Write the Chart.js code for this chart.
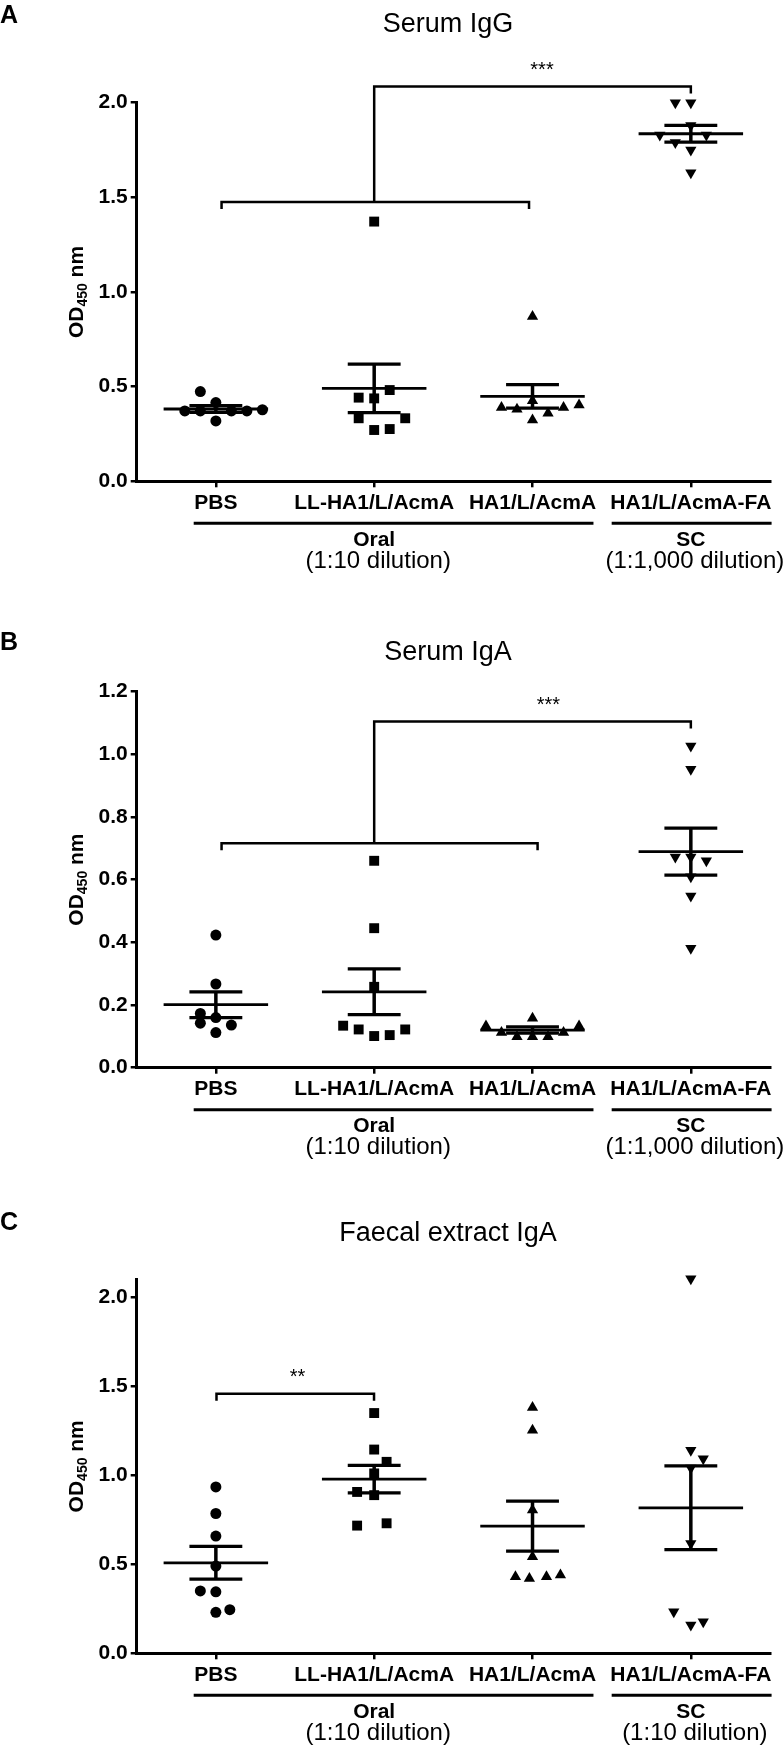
<!DOCTYPE html>
<html>
<head>
<meta charset="utf-8">
<script src="https://cdn.jsdelivr.net/npm/chart.js@4.4.1/dist/chart.umd.min.js"></script>
<style>
  html, body { margin: 0; padding: 0; background: #fff; }
  #wrap { position: relative; width: 784px; height: 1750px; }
  .panel { position: absolute; left: 0; width: 784px; }
  canvas { display: block; }
</style>
</head>
<body>
<div id="wrap">
  <div class="panel" style="top:0"><canvas id="chartA" width="784" height="585"></canvas></div>
  <div class="panel" style="top:585px"><canvas id="chartB" width="784" height="580"></canvas></div>
  <div class="panel" style="top:1165px"><canvas id="chartC" width="784" height="585"></canvas></div>
</div>
<script>
// groups on the x axis
const categories = ["PBS", "LL-HA1/L/AcmA", "HA1/L/AcmA", "HA1/L/AcmA-FA"];
const routes = ["Oral", "SC"];
const routeSpans = [[-0.14, 2.385], [2.5, 3.51]];
const routeCenters = [1, 3];

// A - serum IgG (OD450)
const iggPBS = [0.474, 0.416, 0.372, 0.372, 0.372, 0.372, 0.378, 0.319];
const iggLL  = [1.372, 0.482, 0.442, 0.438, 0.333, 0.333, 0.271, 0.276];
const iggHA1 = [0.871, 0.426, 0.390, 0.380, 0.324, 0.359, 0.390, 0.403];
const iggFA  = [2.000, 2.000, 1.880, 1.830, 1.830, 1.790, 1.750, 1.630];
const iggMean = [0.382, 0.491, 0.449, 1.836];
const iggSem  = [0.018, 0.128, 0.062, 0.044];
const iggTicks = [0, 0.5, 1.0, 1.5, 2.0];
const iggDilution = ["(1:10 dilution)", "(1:1,000 dilution)"];

// B - serum IgA
const igaPBS = [0.423, 0.267, 0.173, 0.160, 0.142, 0.136, 0.112];
const igaLL  = [0.660, 0.445, 0.258, 0.134, 0.122, 0.101, 0.104, 0.122];
const igaHA1 = [0.133, 0.112, 0.099, 0.158, 0.099, 0.099, 0.112, 0.133];
const igaFA  = [1.026, 0.952, 0.672, 0.672, 0.660, 0.609, 0.548, 0.381];
const igaMean = [0.201, 0.242, 0.120, 0.689];
const igaSem  = [0.041, 0.073, 0.010, 0.075];
const igaTicks = [0, 0.2, 0.4, 0.6, 0.8, 1.0, 1.2];
const igaDilution = ["(1:10 dilution)", "(1:1,000 dilution)"];

// C - faecal extract IgA
const fecPBS = [0.934, 0.785, 0.658, 0.490, 0.350, 0.345, 0.230, 0.245];
const fecLL  = [1.349, 1.144, 1.075, 1.010, 0.906, 0.888, 0.717, 0.730];
const fecHA1 = [1.380, 1.252, 0.804, 0.542, 0.430, 0.420, 0.430, 0.439];
const fecFA  = [2.103, 1.140, 1.093, 1.040, 0.617, 0.233, 0.159, 0.177];
const fecMean = [0.508, 0.978, 0.714, 0.817];
const fecSem  = [0.092, 0.077, 0.140, 0.235];
const fecTicks = [0, 0.5, 1.0, 1.5, 2.0];
const fecDilution = ["(1:10 dilution)", "(1:10 dilution)"];

// column-scatter spread of each point, in marker widths
const iggJit = [[-1, 0, -2, -1, 1, 2, 3, 0], [0, 1, -1, 0, -1, 2, 0, 1], [0, 0, -2, -1, 0, 1, 2, 3], [-1, 0, 0, -2, 1, -1, 0, 0]];
const igaJit = [[0, 0, -1, 0, -1, 1, 0], [0, 0, 0, -2, -1, 0, 1, 2], [-3, -2, -1, 0, 0, 1, 2, 3], [0, 0, -1, 0, 1, 0, 0, 0]];
const fecJit = [[0, 0, 0, 0, -1, 0, 0, 0.9], [0, 0, 0.8, 0, -1.1, 0, -1.1, 0.8], [0, 0, 0, 0, -1.1, -0.2, 0.9, 1.8], [0, 0, 0.8, 0, 0, -1.1, 0, 0.8]];

// significance brackets: base [from, to, y], top [from, to, y]
const iggSig = { base: [0.036, 1.978, 1.475], top: [1.0, 3.0, 2.085], stars: "***", starX: 2.06 };
const igaSig = { base: [0.036, 2.032, 0.716], top: [1.0, 3.0, 1.104], stars: "***", starX: 2.1 };
const fecSig = { base: [0.004, 0.999, 1.458], top: null, stars: "**", starX: 0.516 };

const FONT = "'Liberation Sans', Arial, Helvetica, sans-serif";
Chart.defaults.font.family = FONT;
Chart.defaults.color = "#000";

const X_STEP = 0.098;     // one marker width in category units
const MEAN_HALF = 0.33;
const CAP_HALF = 0.167;
const markers = [
  { pointStyle: "circle", pointRadius: 5.5, rotation: 0 },
  { pointStyle: "rect", pointRadius: 7, rotation: 0 },
  { pointStyle: "triangle", pointRadius: 6.5, rotation: 0 },
  { pointStyle: "triangle", pointRadius: 6.5, rotation: 180 }
];

function poly(ctx, lw, pts) {
  ctx.lineWidth = lw;
  ctx.beginPath();
  pts.forEach((p, i) => i ? ctx.lineTo(p[0], p[1]) : ctx.moveTo(p[0], p[1]));
  ctx.stroke();
}

function makePanel(p) {
  const deco = {
    id: "deco",
    afterDatasetsDraw(chart) {
      const { ctx } = chart, x = chart.scales.x, y = chart.scales.y;
      ctx.save();
      ctx.strokeStyle = "#000";
      ctx.lineCap = "butt";
      p.means.forEach((m, i) => {
        const ym = y.getPixelForValue(m);
        const yt = y.getPixelForValue(m + p.sems[i]);
        const yb = y.getPixelForValue(m - p.sems[i]);
        const xc = x.getPixelForValue(i);
        poly(ctx, 2.8, [[x.getPixelForValue(i - MEAN_HALF), ym], [x.getPixelForValue(i + MEAN_HALF), ym]]);
        poly(ctx, 3.5, [[xc, yt], [xc, yb]]);
        poly(ctx, 3.3, [[x.getPixelForValue(i - CAP_HALF), yt], [x.getPixelForValue(i + CAP_HALF), yt]]);
        poly(ctx, 3.3, [[x.getPixelForValue(i - CAP_HALF), yb], [x.getPixelForValue(i + CAP_HALF), yb]]);
      });
      ctx.restore();
    },
    afterDraw(chart) {
      const { ctx, chartArea } = chart, x = chart.scales.x, y = chart.scales.y;
      ctx.save();
      ctx.fillStyle = "#000";
      ctx.strokeStyle = "#000";

      // panel letter + title
      ctx.textAlign = "left";
      ctx.textBaseline = "alphabetic";
      ctx.font = "bold 25px " + FONT;
      ctx.fillText(p.letter, 0, p.letterBase);
      ctx.textAlign = "center";
      ctx.font = "27px " + FONT;
      ctx.fillText(p.title, 448, p.titleBase);

      // y axis title with subscript
      const cy = (chartArea.top + chartArea.bottom) / 2;
      ctx.save();
      ctx.translate(83, cy);
      ctx.rotate(-Math.PI / 2);
      ctx.textAlign = "left";
      const big = "bold 21px " + FONT, small = "bold 14px " + FONT;
      ctx.font = big; const w1 = ctx.measureText("OD").width, w3 = ctx.measureText(" nm").width;
      ctx.font = small; const w2 = ctx.measureText("450").width;
      let sx = -(w1 + w2 + w3) / 2;
      ctx.font = big; ctx.fillText("OD", sx, 0); sx += w1;
      ctx.font = small; ctx.fillText("450", sx, 4); sx += w2;
      ctx.font = big; ctx.fillText(" nm", sx, 0);
      ctx.restore();

      // route groups under the axis
      const bot = chartArea.bottom;
      ctx.textAlign = "center";
      ctx.textBaseline = "middle";
      routes.forEach((r, g) => {
        poly(ctx, 3, [[x.getPixelForValue(routeSpans[g][0]), bot + 42], [x.getPixelForValue(routeSpans[g][1]), bot + 42]]);
        const cx = x.getPixelForValue(routeCenters[g]);
        ctx.font = "bold 21px " + FONT;
        ctx.fillText(r, cx, bot + 59);
        ctx.font = "24px " + FONT;
        ctx.fillText(p.dilution[g], cx + 4, bot + 80);
      });

      // significance bracket
      const s = p.sig, drop = 7;
      ctx.lineJoin = "miter";
      const bx0 = x.getPixelForValue(s.base[0]), bx1 = x.getPixelForValue(s.base[1]), by = y.getPixelForValue(s.base[2]);
      poly(ctx, 2.5, [[bx0, by + drop], [bx0, by], [bx1, by], [bx1, by + drop]]);
      let labelY = by;
      if (s.top) {
        const tx0 = x.getPixelForValue(s.top[0]), tx1 = x.getPixelForValue(s.top[1]), ty = y.getPixelForValue(s.top[2]);
        poly(ctx, 2.5, [[tx0, by], [tx0, ty], [tx1, ty], [tx1, ty + drop]]);
        labelY = ty;
      }
      ctx.textBaseline = "alphabetic";
      ctx.font = "20px " + FONT;
      ctx.fillText(s.stars, x.getPixelForValue(s.starX), labelY - 11);
      ctx.restore();
    }
  };

  const datasets = p.values.map((vals, g) => Object.assign({
    data: vals.map((v, k) => ({ x: g + p.jit[g][k] * X_STEP, y: v })),
    backgroundColor: "#000",
    borderWidth: 0,
    pointBorderWidth: 0,
    showLine: false,
    clip: false
  }, markers[g]));

  return new Chart(document.getElementById(p.id), {
    type: "scatter",
    data: { datasets },
    options: {
      responsive: false,
      animation: false,
      events: [],
      layout: { padding: { top: p.top, right: 14, bottom: 0, left: 0 } },
      plugins: { legend: { display: false }, tooltip: { enabled: false }, title: { display: false } },
      scales: {
        x: {
          type: "linear", min: -0.5, max: 3.5,
          afterBuildTicks: sc => { sc.ticks = categories.map((c, i) => ({ value: i })); },
          afterFit: sc => { sc.height = p.xAxisH; },
          ticks: {
            callback: v => categories[v],
            font: { size: 21, weight: "bold" }, color: "#000",
            padding: 3, autoSkip: false, maxRotation: 0, minRotation: 0
          },
          grid: { drawOnChartArea: false, tickLength: 6, lineWidth: 2.5, color: "#000" },
          border: { display: true, width: 3, color: "#000" }
        },
        y: {
          type: "linear", min: 0, max: p.yMax,
          afterBuildTicks: sc => { sc.ticks = p.ticks.map(v => ({ value: v })); },
          afterFit: sc => { sc.width = 136.7; },
          ticks: { callback: v => v.toFixed(1), font: { size: 21, weight: "bold" }, color: "#000", padding: 3 },
          grid: { drawOnChartArea: false, tickLength: 6, lineWidth: 2.5, color: "#000" },
          border: { display: true, width: 3, color: "#000" }
        }
      }
    },
    plugins: [deco]
  });
}

makePanel({
  id: "chartA", letter: "A", title: "Serum IgG", letterBase: 23, titleBase: 31.5,
  values: [iggPBS, iggLL, iggHA1, iggFA], jit: iggJit, means: iggMean, sems: iggSem,
  ticks: iggTicks, yMax: 2.0, dilution: iggDilution, sig: iggSig,
  top: 102.7, xAxisH: 103.7
});
makePanel({
  id: "chartB", letter: "B", title: "Serum IgA", letterBase: 65, titleBase: 75,
  values: [igaPBS, igaLL, igaHA1, igaFA], jit: igaJit, means: igaMean, sems: igaSem,
  ticks: igaTicks, yMax: 1.2, dilution: igaDilution, sig: igaSig,
  top: 106.5, xAxisH: 97.3
});
makePanel({
  id: "chartC", letter: "C", title: "Faecal extract IgA", letterBase: 65, titleBase: 75.5,
  values: [fecPBS, fecLL, fecHA1, fecFA], jit: fecJit, means: fecMean, sems: fecSem,
  ticks: fecTicks, yMax: 2.1, dilution: fecDilution, sig: fecSig,
  top: 114.3, xAxisH: 96.7
});
</script>
</body>
</html>
